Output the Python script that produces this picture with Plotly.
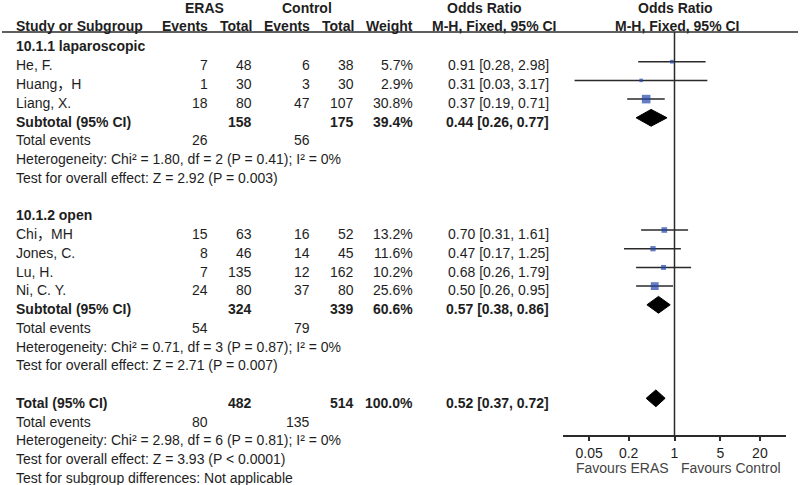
import numpy as np
import plotly.graph_objects as go

# ---- data ----
studies = ["He, F.", "Huang，H", "Liang, X.", "Chi，MH", "Jones, C.", "Lu, H.", "Ni, C. Y."]
study_group = [0, 0, 0, 1, 1, 1, 1]
eras_events = [7, 1, 18, 15, 8, 7, 24]
eras_total = [48, 30, 80, 63, 46, 135, 80]
ctrl_events = [6, 3, 47, 16, 14, 12, 37]
ctrl_total = [38, 30, 107, 52, 45, 162, 80]
weight = [5.7, 2.9, 30.8, 13.2, 11.6, 10.2, 25.6]
odds_ratio = [0.91, 0.31, 0.37, 0.70, 0.47, 0.68, 0.50]
ci_low = [0.28, 0.03, 0.19, 0.31, 0.17, 0.26, 0.26]
ci_high = [2.98, 3.17, 0.71, 1.61, 1.25, 1.79, 0.95]

subgroups = ["10.1.1 laparoscopic", "10.1.2 open"]
sub_eras_total = [158, 324]
sub_ctrl_total = [175, 339]
sub_weight = [39.4, 60.6]
sub_or = [0.44, 0.57]
sub_low = [0.26, 0.38]
sub_high = [0.77, 0.86]
sub_eras_events = [26, 54]
sub_ctrl_events = [56, 79]
sub_het = ["Heterogeneity: Chi² = 1.80, df = 2 (P = 0.41); I² = 0%",
           "Heterogeneity: Chi² = 0.71, df = 3 (P = 0.87); I² = 0%"]
sub_effect = ["Test for overall effect: Z = 2.92 (P = 0.003)",
              "Test for overall effect: Z = 2.71 (P = 0.007)"]

total_eras_total = 482
total_ctrl_total = 514
total_weight = 100.0
total_or = 0.52
total_low = 0.37
total_high = 0.72
total_eras_events = 80
total_ctrl_events = 135
total_het = "Heterogeneity: Chi² = 2.98, df = 6 (P = 0.81); I² = 0%"
total_effect = "Test for overall effect: Z = 3.93 (P < 0.0001)"
subgroup_diff = "Test for subgroup differences: Not applicable"

tick_vals = [0.05, 0.2, 1, 5, 20]
tick_text = ["0.05", "0.2", "1", "5", "20"]

# ---- layout helpers ----
W, H = 800, 485
TXT = "#1e1e1e"
FONT = "Liberation Sans, Arial, Noto Sans CJK SC, sans-serif"
FS = 14

# right edges of table columns (px)
col_x = {"ee": 210, "et": 254, "ce": 312, "ct": 356, "w": 415, "or": 551}


def px_x(p):
    return p / W


def text_y(row):
    return 1 - (46.5 + 18.75 * row) / H


def head_y(p):
    return 1 - p / H


annotations = []


def add_text(x, y, s, anchor="left", bold=False, color=TXT, size=FS):
    annotations.append(dict(
        x=x, y=y, xref="paper", yref="paper", text=f"<b>{s}</b>" if bold else s,
        showarrow=False, xanchor=anchor, yanchor="middle",
        font=dict(family=FONT, size=size, color=color)))


def fmt_or(o, lo, hi):
    return f"{o:.2f} [{lo:.2f}, {hi:.2f}]"


# table header
add_text(px_x(204), head_y(8), "ERAS", "center", True)
add_text(px_x(307), head_y(8), "Control", "center", True)
add_text(px_x(485), head_y(8), "Odds Ratio", "center", True)
add_text(px_x(675), head_y(8), "Odds Ratio", "center", True)
add_text(px_x(14), head_y(26), "Study or Subgroup", "left", True)
add_text(px_x(col_x["ee"]), head_y(26), "Events", "right", True)
add_text(px_x(col_x["et"]), head_y(26), "Total", "right", True)
add_text(px_x(col_x["ce"]), head_y(26), "Events", "right", True)
add_text(px_x(col_x["ct"]), head_y(26), "Total", "right", True)
add_text(px_x(col_x["w"]), head_y(26), "Weight", "right", True)
add_text(px_x(558), head_y(26), "M-H, Fixed, 95% CI", "right", True)
add_text(px_x(677), head_y(26), "M-H, Fixed, 95% CI", "center", True)

# rows
study_rows = []
sub_rows = []
row = 0
for g, name in enumerate(subgroups):
    add_text(px_x(14), text_y(row), name, bold=True)
    row += 1
    for i, s in enumerate(studies):
        if study_group[i] != g:
            continue
        y = text_y(row)
        add_text(px_x(14), y, s)
        add_text(px_x(col_x["ee"]), y, str(eras_events[i]), "right")
        add_text(px_x(col_x["et"]), y, str(eras_total[i]), "right")
        add_text(px_x(col_x["ce"]), y, str(ctrl_events[i]), "right")
        add_text(px_x(col_x["ct"]), y, str(ctrl_total[i]), "right")
        add_text(px_x(col_x["w"]), y, f"{weight[i]:.1f}%", "right")
        add_text(px_x(col_x["or"]), y, fmt_or(odds_ratio[i], ci_low[i], ci_high[i]), "right")
        study_rows.append(row)
        row += 1
    y = text_y(row)
    add_text(px_x(14), y, "Subtotal (95% CI)", bold=True)
    add_text(px_x(col_x["et"]), y, str(sub_eras_total[g]), "right", True)
    add_text(px_x(col_x["ct"]), y, str(sub_ctrl_total[g]), "right", True)
    add_text(px_x(col_x["w"]), y, f"{sub_weight[g]:.1f}%", "right", True)
    add_text(px_x(col_x["or"]), y, fmt_or(sub_or[g], sub_low[g], sub_high[g]), "right", True)
    sub_rows.append(row)
    row += 1
    y = text_y(row)
    add_text(px_x(14), y, "Total events")
    add_text(px_x(col_x["ee"]), y, str(sub_eras_events[g]), "right")
    add_text(px_x(col_x["ce"]), y, str(sub_ctrl_events[g]), "right")
    row += 1
    add_text(px_x(14), text_y(row), sub_het[g])
    row += 1
    add_text(px_x(14), text_y(row), sub_effect[g])
    row += 2

total_row = row
y = text_y(row)
add_text(px_x(14), y, "Total (95% CI)", bold=True)
add_text(px_x(col_x["et"]), y, str(total_eras_total), "right", True)
add_text(px_x(col_x["ct"]), y, str(total_ctrl_total), "right", True)
add_text(px_x(col_x["w"]), y, f"{total_weight:.1f}%", "right", True)
add_text(px_x(col_x["or"]), y, fmt_or(total_or, total_low, total_high), "right", True)
row += 1
y = text_y(row)
add_text(px_x(14), y, "Total events")
add_text(px_x(col_x["ee"]), y, str(total_eras_events), "right")
add_text(px_x(col_x["ce"]), y, str(total_ctrl_events), "right")
row += 1
add_text(px_x(14), text_y(row), total_het)
row += 1
add_text(px_x(14), text_y(row), total_effect)
row += 1
add_text(px_x(14), text_y(row), subgroup_diff)

# favours labels under the axis
add_text(px_x(622), head_y(468), "Favours ERAS", "center", color="#444")
add_text(px_x(731), head_y(468), "Favours Control", "center", color="#444")

# ---- forest marks ----
fig = go.Figure()

ci_x, ci_y = [], []
for r, lo, hi in zip(study_rows, ci_low, ci_high):
    ci_x += [lo, hi, None]
    ci_y += [r, r, None]
fig.add_trace(go.Scatter(x=ci_x, y=ci_y, mode="lines",
                         line=dict(color="#2a2a2a", width=1.5), hoverinfo="skip"))

sizes = np.maximum(3.5, 1.55 * np.sqrt(weight))
fig.add_trace(go.Scatter(x=odds_ratio, y=study_rows, mode="markers",
                         marker=dict(symbol="square", size=sizes, color="#2446a8",
                                     line=dict(width=0)),
                         text=studies, hoverinfo="text+x"))

dh = 0.45
for r, o, lo, hi in zip(sub_rows + [total_row], sub_or + [total_or],
                        sub_low + [total_low], sub_high + [total_high]):
    fig.add_trace(go.Scatter(x=[lo, o, hi, o, lo], y=[r, r - dh, r, r + dh, r],
                             mode="lines", fill="toself", fillcolor="black",
                             line=dict(color="black", width=1), hoverinfo="skip"))

# marks sit a little above the text baseline: row r -> 43 + 18.7*r px
ax_bottom_px = 435
r_top = (0 - 43) / 18.7
r_bot = (ax_bottom_px - 43) / 18.7

fig.update_layout(
    width=W, height=H,
    margin=dict(l=0, r=0, t=0, b=0),
    paper_bgcolor="white", plot_bgcolor="white",
    showlegend=False,
    font=dict(family=FONT, size=FS, color=TXT),
    annotations=annotations,
    xaxis=dict(type="log", domain=[563 / W, 786 / W],
               range=[np.log10(0.02), np.log10(50)],
               showgrid=False, zeroline=False, showline=True,
               linecolor="#2a2a2a", linewidth=1.5,
               ticks="outside", ticklen=4, tickwidth=1.5, tickcolor="#2a2a2a",
               tickvals=tick_vals, ticktext=tick_text,
               tickfont=dict(family=FONT, size=FS, color=TXT)),
    yaxis=dict(domain=[(H - ax_bottom_px) / H, 1], range=[r_bot, r_top],
               visible=False, showgrid=False, zeroline=False),
    shapes=[
        dict(type="line", xref="paper", yref="paper", x0=2 / W, x1=798 / W,
             y0=head_y(32), y1=head_y(32), line=dict(color="#2a2a2a", width=1.5)),
        dict(type="line", xref="x", yref="paper", x0=1, x1=1,
             y0=(H - ax_bottom_px) / H, y1=head_y(32),
             line=dict(color="#2a2a2a", width=1.5)),
    ],
)

# drop the default page margin so the 800x485 figure fills the window
fig.write_html("out.html", config={"displayModeBar": False},
               post_script="document.body.style.margin='0';")
